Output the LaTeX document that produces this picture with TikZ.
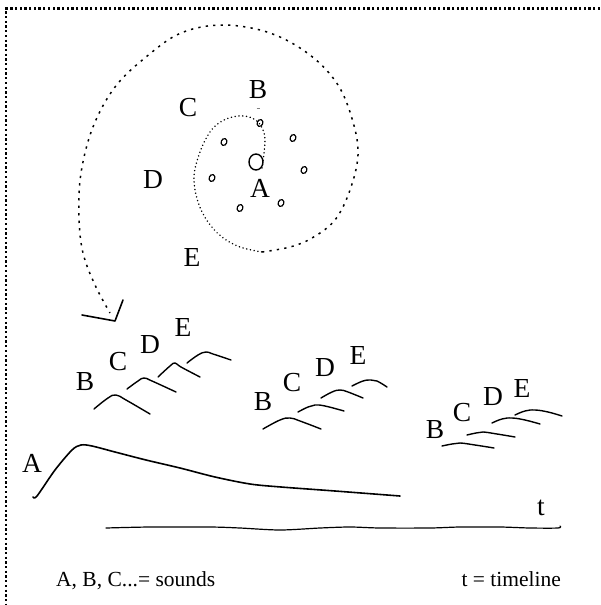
\documentclass[tikz,border=0pt]{standalone}
\usepackage{fontspec}
\setmainfont{Liberation Serif}
\begin{document}
\begin{tikzpicture}[x=1pt,y=-1pt,
 lbl/.style={inner sep=0pt,font=\fontsize{27.5}{27.5}\selectfont},
 leg/.style={inner sep=0pt,font=\fontsize{21.5}{21.5}\selectfont},
 wave/.style={line width=1.4pt,line cap=round,line join=round},
 ring/.style={line width=1.2pt},
 spiralin/.style={line width=1.5pt,line cap=round,dash pattern=on 0.2pt off 3.6pt},
 spiralout/.style={line width=1.5pt,dash pattern=on 2.3pt off 5.2pt},
 frame/.style={line width=2.3pt,dash pattern=on 2.3pt off 2.4pt}]
\useasboundingbox (0,0) rectangle (600,605);
% frame
\draw[frame] (600,8.5) -- (6,8.5) -- (6,605);
% spiral
\draw[spiralin] plot[smooth,tension=0.6] coordinates {(262,168) (265,140) (261,126) (252,118) (238,116) (222,121) (210,132) (200,152) (194,177) (198,202) (208,222) (222,237) (240,247) (262,252)};
\draw[spiralout] plot[smooth,tension=0.6] coordinates {(262,252) (290,247) (312,238) (335,220) (350,190) (358,155) (353,122) (338,85) (310,55) (270,33) (223,25) (181,33) (146,57) (115,87) (93,127) (81,173) (79,217) (83,253) (95,285) (110,313)};
\draw[line width=1.6pt,line join=round,line cap=round] (82,315) -- (115,321) -- (123,300);
% rings
\foreach \p in {(260,123),(224,142),(293,138),(304,170),(212,178),(240,208),(281,203)}
  \draw[ring] \p ellipse[x radius=2.8pt,y radius=3.5pt,rotate=-20];
\draw[line width=1.4pt] (256,162) ellipse[x radius=7pt,y radius=8pt];
\draw[line width=0.6pt,gray] (256.5,108) -- (259.5,108);
% spiral labels
\node[lbl] (sB) at (258,90) {B};
\node[lbl] (sC) at (188,108) {C};
\node[lbl] (sD) at (153,180) {D};
\node[lbl] (sE) at (192,257) {E};
\node[lbl] (sA) at (260,188) {A};
% group 1
\node[lbl] (g1B) at (85,382) {B};
\node[lbl] (g1C) at (118,362) {C};
\node[lbl] (g1D) at (150,345) {D};
\node[lbl] (g1E) at (183,327) {E};
\draw[wave] plot[smooth,tension=0.7] coordinates {(94,409) (108,398) (116,395) (126,400) (150,414)};
\draw[wave] plot[smooth,tension=0.7] coordinates {(127,389) (138,381) (144,378) (152,381) (176,392)};
\draw[wave] plot[smooth,tension=0.7] coordinates {(158,377) (170,366) (175,363) (181,367) (200,377)};
\draw[wave] plot[smooth,tension=0.7] coordinates {(187,363) (198,355) (206,352) (213,354) (231,360)};
% group 2
\node[lbl] (g2B) at (263,402) {B};
\node[lbl] (g2C) at (292,383) {C};
\node[lbl] (g2D) at (325,368) {D};
\node[lbl] (g2E) at (358,355) {E};
\draw[wave] plot[smooth,tension=0.7] coordinates {(263,429) (280,420) (290,418) (300,421) (321,429)};
\draw[wave] plot[smooth,tension=0.7] coordinates {(298,412) (308,407) (315,405) (325,406) (344,411)};
\draw[wave] plot[smooth,tension=0.7] coordinates {(321,398) (332,392) (340,390) (348,392) (363,398)};
\draw[wave] plot[smooth,tension=0.7] coordinates {(352,386) (363,381) (371,380) (377,381) (387,387)};
% group 3
\node[lbl] (g3B) at (435,430) {B};
\node[lbl] (g3C) at (462,413) {C};
\node[lbl] (g3D) at (493,397) {D};
\node[lbl] (g3E) at (522,388) {E};
\draw[wave] plot[smooth,tension=0.7] coordinates {(442,446) (452,444) (460,443) (475,445) (494,448)};
\draw[wave] plot[smooth,tension=0.7] coordinates {(467,435) (476,433) (483,432) (497,434) (515,437)};
\draw[wave] plot[smooth,tension=0.7] coordinates {(492,423) (502,419) (512,418) (525,420) (540,424)};
\draw[wave] plot[smooth,tension=0.7] coordinates {(515,415) (525,411) (535,410) (548,412) (562,416)};
% A envelope
\node[lbl] (gA) at (32,463) {A};
\draw[line width=1.6pt,line cap=round,line join=round] plot[smooth,tension=0.5] coordinates {(33,497) (37,496) (55,470) (72,450) (81,445) (92,446) (115,452) (146,460) (180,468) (215,477) (250,484) (281,487) (335,491) (400,496)};
% timeline
\draw[line width=1.2pt,line cap=round] plot[smooth,tension=0.5] coordinates {(106,528) (150,527) (210,527) (240,528) (280,530) (320,528) (350,527) (380,528) (430,528) (460,527) (500,527) (530,528) (558,528) (560,526)};
\node[lbl,anchor=base] (tl) at (541,515) {t};
% legend
\node[leg,anchor=base west] (leg1) at (56,586) {A, B, C...= sounds};
\node[leg,anchor=base east] (leg2) at (561,586) {t = timeline};
\end{tikzpicture}
\end{document}
